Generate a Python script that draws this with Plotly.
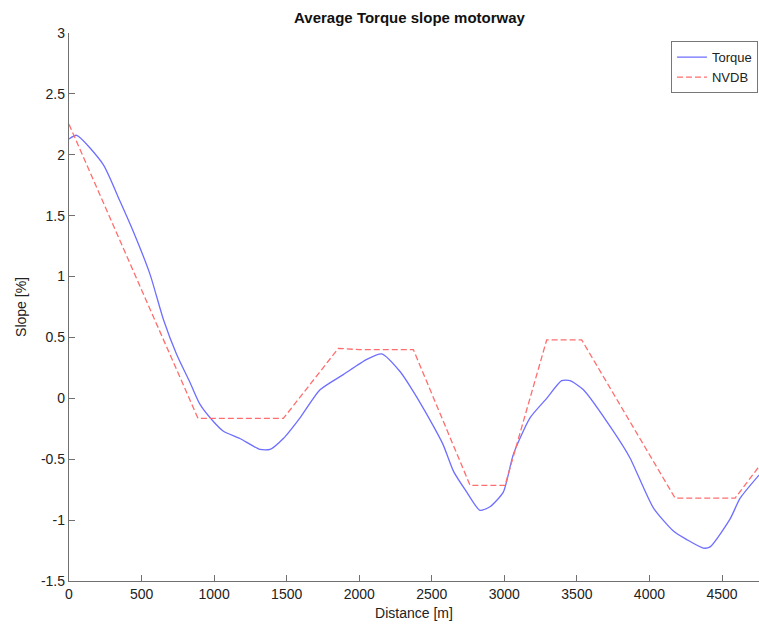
import plotly.graph_objects as go

# Distance along the route [m] and the measured (torque-based) slope [%]
torque_distance = [0, 53, 236, 351, 443, 558, 650, 742, 834, 903, 995, 1064, 1178,
                   1316, 1385, 1477, 1592, 1730, 1890, 2052, 2155, 2281, 2371, 2465,
                   2578, 2650, 2741, 2832, 2901, 2993, 3062, 3177, 3292, 3395, 3453,
                   3545, 3751, 3866, 4027, 4165, 4257, 4371, 4418, 4556, 4625, 4755]
torque_slope = [2.13, 2.16, 1.92, 1.62, 1.37, 1.02, 0.65, 0.36, 0.13, -0.05, -0.19,
                -0.27, -0.33, -0.42, -0.42, -0.33, -0.16, 0.07, 0.195, 0.32, 0.365,
                0.22, 0.06, -0.13, -0.38, -0.60, -0.77, -0.92, -0.89, -0.77, -0.46,
                -0.16, 0.0, 0.145, 0.145, 0.07, -0.27, -0.49, -0.90, -1.09, -1.16,
                -1.23, -1.22, -0.99, -0.82, -0.63]

# Road database (NVDB) slope, piecewise linear
nvdb_distance = [0, 889, 1477, 1856, 2000, 2373, 2764, 3005, 3292, 3533, 4177, 4590, 4755]
nvdb_slope = [2.25, -0.165, -0.165, 0.41, 0.40, 0.40, -0.715, -0.715, 0.48, 0.48,
              -0.82, -0.82, -0.56]

x_ticks = [0, 500, 1000, 1500, 2000, 2500, 3000, 3500, 4000, 4500]
y_ticks = [-1.5, -1, -0.5, 0, 0.5, 1, 1.5, 2, 2.5, 3]
y_tick_labels = ["-1.5", "-1", "-0.5", "0", "0.5", "1", "1.5", "2", "2.5", "3"]

FONT = "Arial, Liberation Sans, sans-serif"
TEXT_SIZE = 14

fig = go.Figure()
fig.add_trace(go.Scatter(
    x=torque_distance, y=torque_slope, mode="lines", name="Torque",
    line=dict(color="#6e6eff", width=1.3, shape="spline", smoothing=0.6),
))
fig.add_trace(go.Scatter(
    x=nvdb_distance, y=nvdb_slope, mode="lines", name="NVDB",
    line=dict(color="#ff6e6e", width=1.3, dash="6px,3px"),
))

axis_common = dict(
    showgrid=False, zeroline=False, showline=True, linecolor="#707070",
    linewidth=1.4, ticks="inside", ticklen=6, tickcolor="#707070",
    tickfont=dict(family=FONT, size=TEXT_SIZE, color="#222"),
)

fig.update_layout(
    width=759, height=628,
    margin=dict(l=69, r=0, t=33, b=47),
    paper_bgcolor="white", plot_bgcolor="white",
    title=dict(text="<b>Average Torque slope motorway</b>", x=0.4935, xref="paper",
               xanchor="center", y=0.972, yref="container", yanchor="middle",
               font=dict(family=FONT, size=15, color="#111")),
    showlegend=True,
    legend=dict(x=0.9985, y=0.985, xanchor="right", yanchor="top",
                bgcolor="white", bordercolor="#777", borderwidth=1,
                font=dict(family=FONT, size=13, color="#222"),
                tracegroupgap=0, itemwidth=30,
                entrywidth=60, entrywidthmode="pixels"),
    xaxis=dict(range=[0, 4755], tickvals=x_ticks,
               title=dict(text="Distance [m]", standoff=7,
                          font=dict(family=FONT, size=TEXT_SIZE, color="#222")),
               **axis_common),
    yaxis=dict(range=[-1.5, 3], tickvals=y_ticks, ticktext=y_tick_labels,
               title=dict(text="Slope [%]", standoff=10,
                          font=dict(family=FONT, size=TEXT_SIZE, color="#222")),
               **axis_common),
)

fig.write_html("out.html")
